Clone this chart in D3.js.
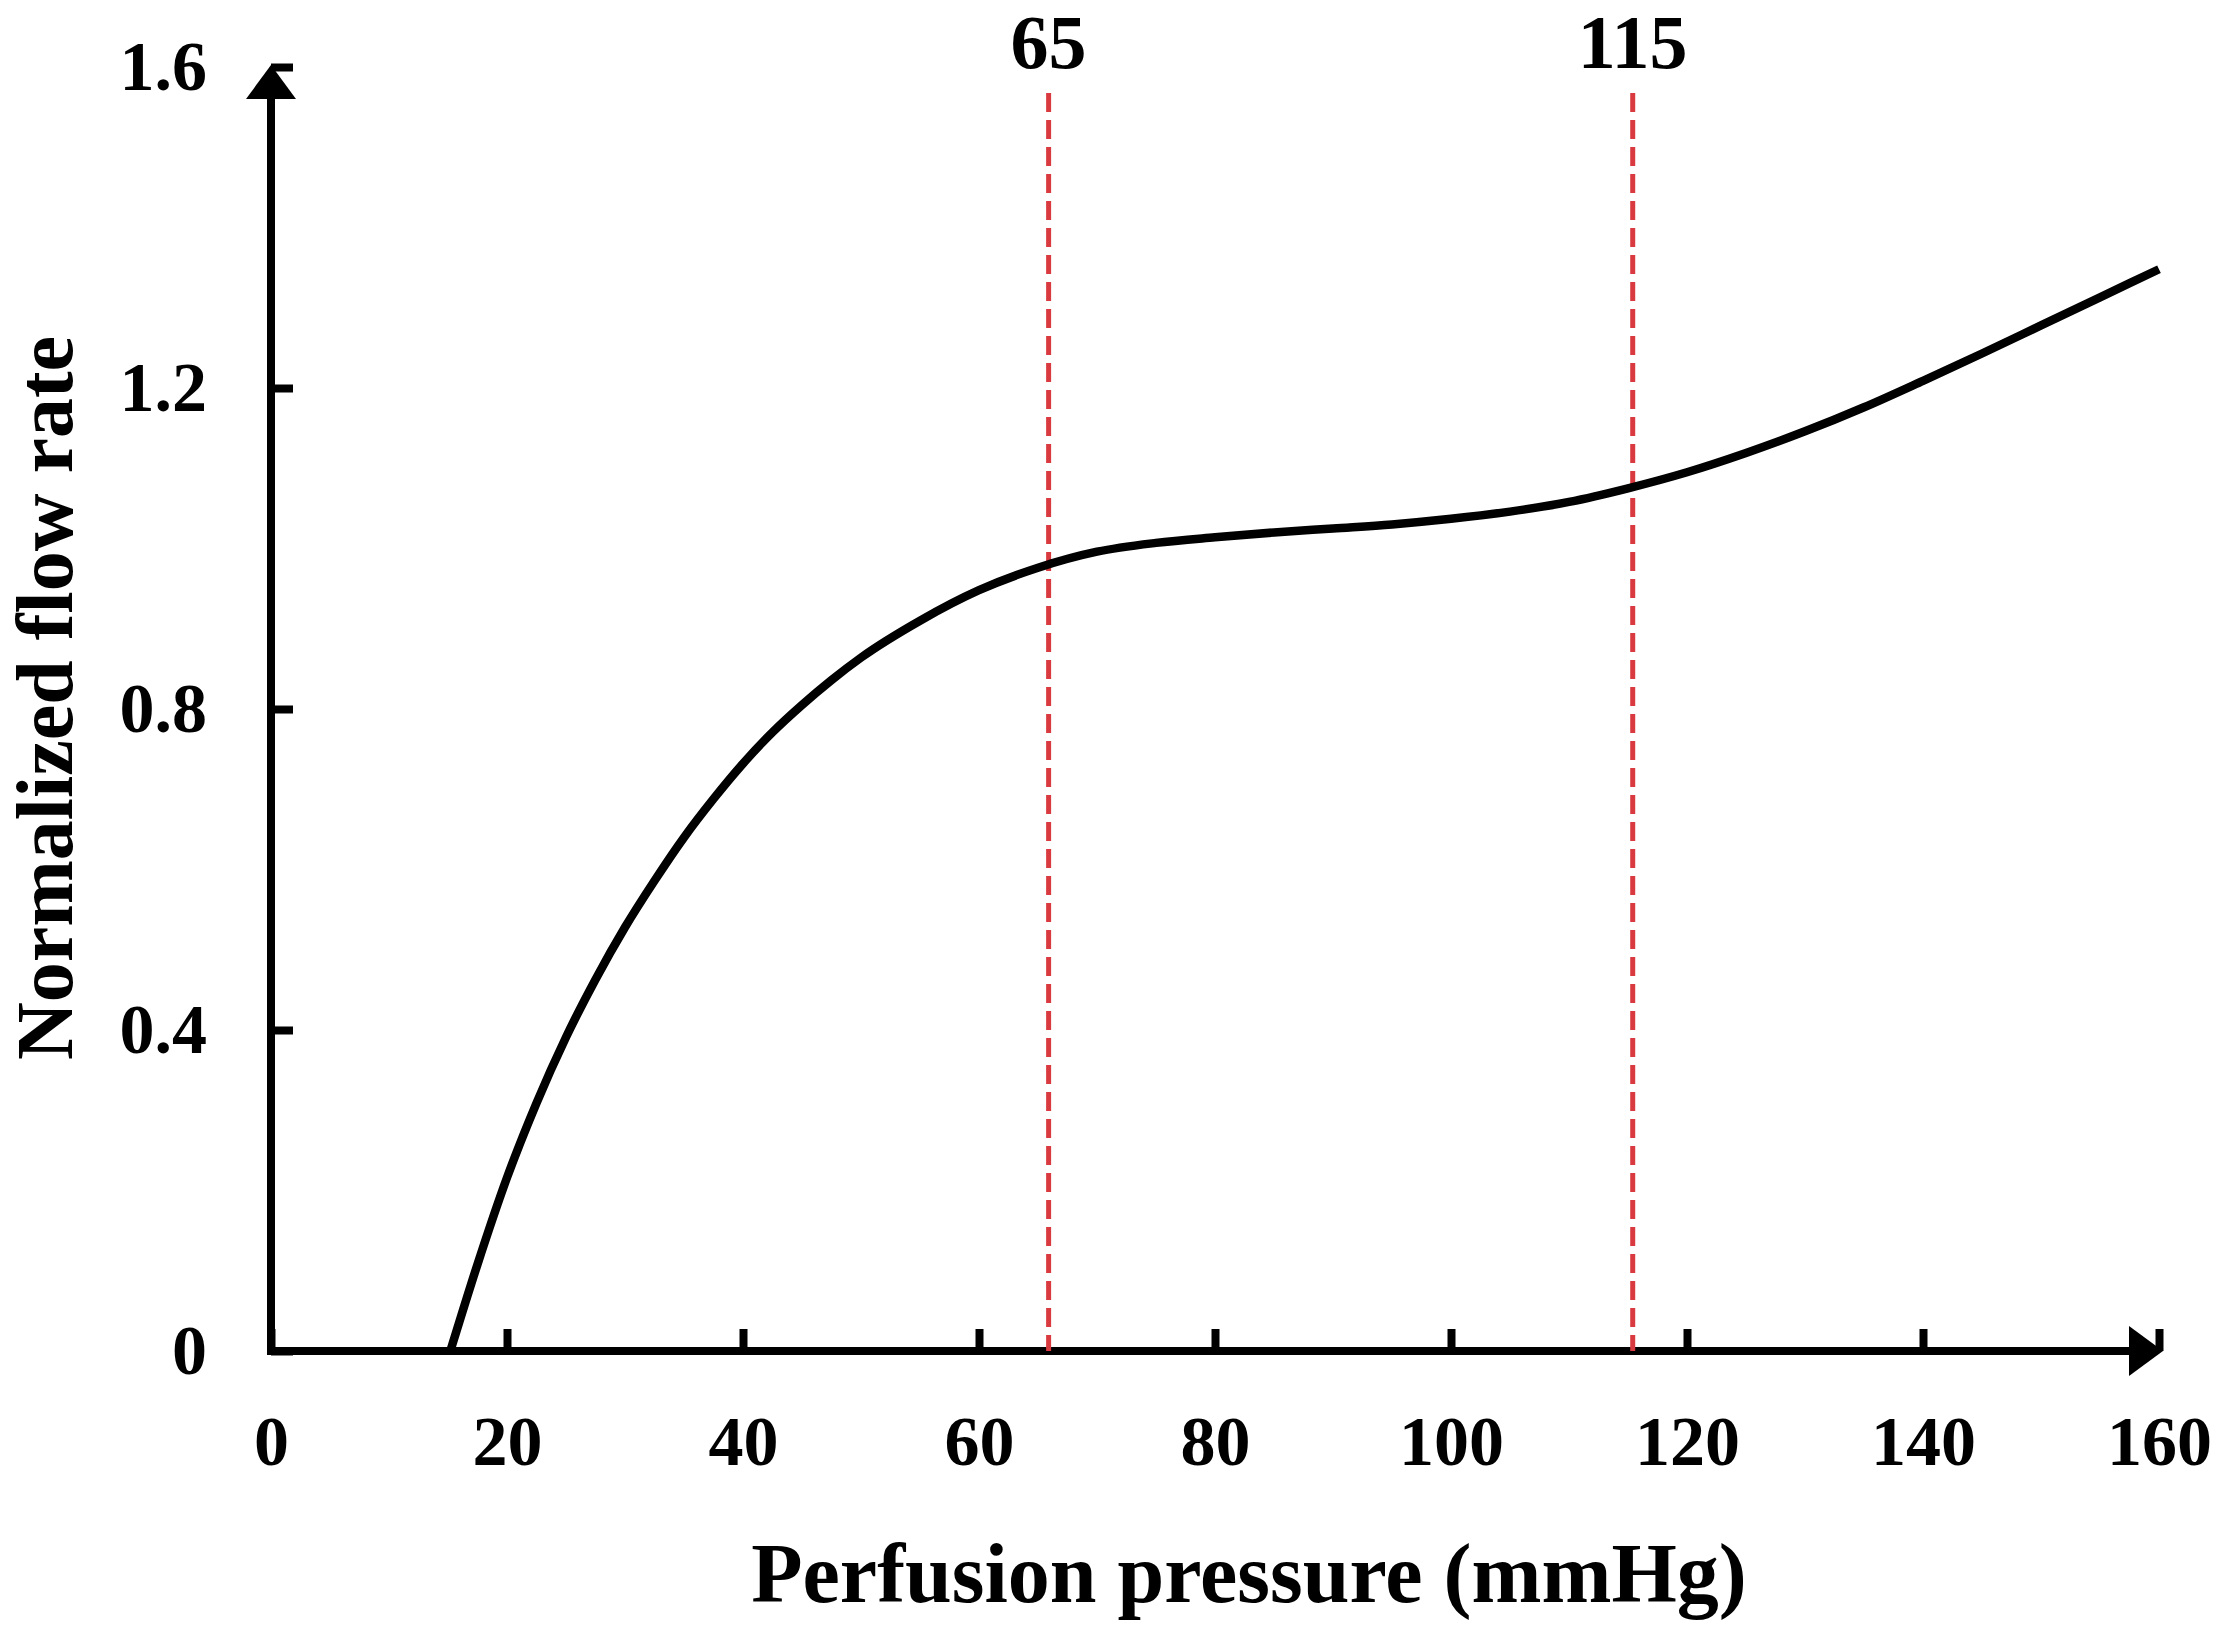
<!DOCTYPE html>
<html>
<head>
<meta charset="utf-8">
<script src="https://cdn.jsdelivr.net/npm/d3@7"></script>
<style>
  html, body { margin: 0; padding: 0; background: #fff; }
  svg { display: block; }
  text { font-family: "Liberation Serif", "Times New Roman", serif; font-weight: bold; fill: #000; }
</style>
</head>
<body>
<script>
// ---- data ----
const pressure = [15.2, 17.5, 20, 22.5, 25, 27.5, 30, 32.5, 35, 37.5, 40, 42.5, 45, 47.5, 50, 55, 60, 65, 70, 75, 80, 85, 90, 95, 100, 105, 110, 115, 120, 125, 130, 135, 140, 145, 150, 155, 160];
const flowRate = [0.0, 0.108, 0.216, 0.309, 0.391, 0.463, 0.528, 0.586, 0.640, 0.688, 0.732, 0.771, 0.805, 0.836, 0.864, 0.910, 0.948, 0.976, 0.996, 1.007, 1.014, 1.020, 1.025, 1.030, 1.037, 1.046, 1.058, 1.075, 1.095, 1.119, 1.146, 1.176, 1.209, 1.243, 1.278, 1.313, 1.348];
const xTicks = [0, 20, 40, 60, 80, 100, 120, 140, 160];
const yTicks = [0, 0.4, 0.8, 1.2, 1.6];
const yTickLabels = ["0", "0.4", "0.8", "1.2", "1.6"];
const markerPositions = [65.9, 115.4];
const markerLabels = ["65", "115"];
const xTitle = "Perfusion pressure (mmHg)";
const yTitle = "Normalized flow rate";

// ---- layout ----
const W = 2217, H = 1625;
const svg = d3.select("body").append("svg").attr("width", W).attr("height", H);

const x = d3.scaleLinear().domain([0, 160]).range([271, 2159]);
const y = d3.scaleLinear().domain([0, 1.6]).range([1351, 67]);

const axisW = 8;

// x axis
const gx = svg.append("g").attr("transform", `translate(0,${y(0)})`)
  .call(d3.axisBottom(x).tickValues(xTicks).tickFormat(d3.format("d"))
    .tickSizeInner(-22).tickSizeOuter(0).tickPadding(64));
gx.select(".domain").remove();
gx.selectAll(".tick line").attr("stroke", "#000").attr("stroke-width", axisW);
gx.selectAll(".tick text").style("font-size", "70px").attr("fill", "#000");

// y axis
const gy = svg.append("g").attr("transform", `translate(${x(0)},0)`)
  .call(d3.axisLeft(y).tickValues(yTicks).tickFormat((d, i) => yTickLabels[i])
    .tickSizeInner(-22).tickSizeOuter(0).tickPadding(64));
gy.select(".domain").remove();
gy.selectAll(".tick line").attr("stroke", "#000").attr("stroke-width", axisW);
gy.selectAll(".tick text").style("font-size", "70px").attr("fill", "#000");

// axis lines with arrows
const arrowLen = 34, arrowHalf = 25;
const xTip = x(160) + 4, yTip = y(1.6) - 2;
svg.append("line")
  .attr("x1", x(0) - axisW / 2).attr("x2", xTip - arrowLen + 2)
  .attr("y1", y(0)).attr("y2", y(0))
  .attr("stroke", "#000").attr("stroke-width", axisW);
svg.append("path")
  .attr("d", `M${xTip},${y(0)} L${xTip - arrowLen},${y(0) - arrowHalf} L${xTip - arrowLen},${y(0) + arrowHalf} Z`)
  .attr("fill", "#000");
svg.append("line")
  .attr("x1", x(0)).attr("x2", x(0))
  .attr("y1", y(0) + axisW / 2).attr("y2", yTip + arrowLen - 2)
  .attr("stroke", "#000").attr("stroke-width", axisW);
svg.append("path")
  .attr("d", `M${x(0)},${yTip} L${x(0) - arrowHalf},${yTip + arrowLen} L${x(0) + arrowHalf},${yTip + arrowLen} Z`)
  .attr("fill", "#000");

// red dashed markers
svg.append("g").selectAll("line").data(markerPositions).join("line")
  .attr("x1", d => x(d)).attr("x2", d => x(d))
  .attr("y1", 93).attr("y2", y(0))
  .attr("stroke", "#d93a3f").attr("stroke-width", 5)
  .attr("stroke-dasharray", "19 8");
svg.append("g").selectAll("text").data(markerPositions).join("text")
  .attr("x", d => x(d)).attr("y", 68)
  .attr("text-anchor", "middle")
  .style("font-size", "76px")
  .text((d, i) => markerLabels[i]);

// curve
const pts = pressure.map((p, i) => [p, flowRate[i]]);
svg.append("path")
  .datum(pts)
  .attr("fill", "none")
  .attr("stroke", "#000")
  .attr("stroke-width", 8.5)
  .attr("stroke-linecap", "butt")
  .attr("d", d3.line().x(d => x(d[0])).y(d => y(d[1])).curve(d3.curveMonotoneX));

// titles
svg.append("text")
  .attr("x", 1249).attr("y", 1602)
  .attr("text-anchor", "middle")
  .style("font-size", "84px")
  .text(xTitle);
svg.append("text")
  .attr("transform", "translate(72,698) rotate(-90)")
  .attr("text-anchor", "middle")
  .style("font-size", "80px")
  .text(yTitle);
</script>
</body>
</html>
